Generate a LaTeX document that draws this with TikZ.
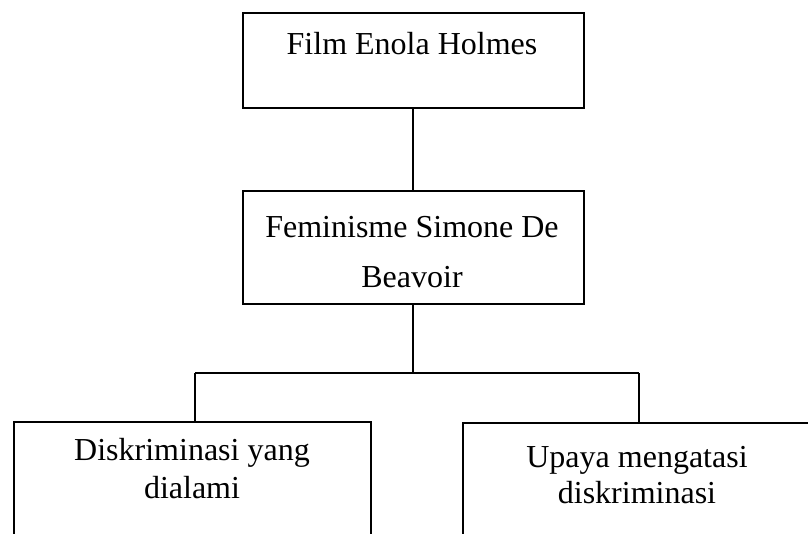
\documentclass[tikz,border=0pt]{standalone}
\usepackage{fontspec}
\setmainfont{Liberation Serif}
\begin{document}
\begin{tikzpicture}[x=1pt,y=-1pt,
  boxx/.style={draw=black,line width=2pt,rectangle,inner sep=0pt},
  lbl/.style={anchor=base,inner sep=0pt,font=\fontsize{32}{38}\selectfont},
  conn/.style={draw=black,line width=1.6pt}]
\useasboundingbox (0,0) rectangle (808,533);
\clip (0,0) rectangle (808,533);
% boxes
\node[boxx,minimum width=341pt,minimum height=95pt] (top) at (413,60.5) {};
\node[boxx,minimum width=341pt,minimum height=113pt] (mid) at (413,247.5) {};
\node[boxx,minimum width=357pt,minimum height=126pt] (left) at (192.5,485) {};
\node[boxx,minimum width=357pt,minimum height=126pt] (right) at (641.5,486) {};
% texts
\node[lbl] (t1) at (412,54) {Film Enola Holmes};
\node[lbl] (m1) at (412,237) {Feminisme Simone De};
\node[lbl] (m2) at (412,287) {Beavoir};
\node[lbl] (l1) at (192,460) {Diskriminasi yang};
\node[lbl] (l2) at (192,498) {dialami};
\node[lbl] (r1) at (637,467) {Upaya mengatasi};
\node[lbl] (r2) at (637,503) {diskriminasi};
% connectors
\coordinate (jm) at (413,373);
\coordinate (jl) at (195,373);
\coordinate (jr) at (639,373);
\draw[conn] (top.south) -- (mid.north);
\draw[conn] (mid.south) -- (jm);
\draw[conn] (jl) -- (jr);
\draw[conn] (jl) -- (jl |- left.north);
\draw[conn] (jr) -- (jr |- right.north);
\end{tikzpicture}
\end{document}
